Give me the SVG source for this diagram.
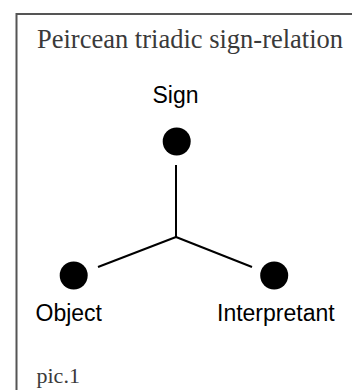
<svg xmlns="http://www.w3.org/2000/svg" width="352" height="390" viewBox="0 0 352 390">
  <style>
    .frame { fill: none; stroke: #555; stroke-width: 2; }
    .caption { font-family: "Liberation Serif", "Times New Roman", serif; fill: #3a3a3a; }
    .label { font-family: "Liberation Sans", Arial, sans-serif; font-size: 23px; fill: #000; }
    .dot { fill: #000; }
    .edge { stroke: #000; stroke-width: 2; fill: none; }
  </style>
  <rect x="0" y="0" width="352" height="390" fill="#fff"/>
  <!-- outer frame, open on the right and bottom -->
  <rect class="frame" x="16.5" y="14" width="360" height="400"/>
  <text class="caption" x="37" y="47.5" font-size="26.5">Peircean triadic sign-relation</text>

  <g id="connectors">
    <line class="edge" x1="176" y1="165" x2="176" y2="237"/>
    <line class="edge" x1="176" y1="237" x2="98" y2="267"/>
    <line class="edge" x1="176" y1="237" x2="252" y2="267"/>
  </g>

  <g id="sign">
    <circle class="dot" cx="176.7" cy="141.5" r="14"/>
    <text class="label" x="152.5" y="103">Sign</text>
  </g>
  <g id="object">
    <circle class="dot" cx="73.7" cy="275.5" r="14"/>
    <text class="label" x="35.5" y="321">Object</text>
  </g>
  <g id="interpretant">
    <circle class="dot" cx="274.2" cy="275.5" r="14"/>
    <text class="label" x="217" y="321">Interpretant</text>
  </g>

  <text class="caption" x="36.5" y="382.5" font-size="22">pic.1</text>
</svg>
